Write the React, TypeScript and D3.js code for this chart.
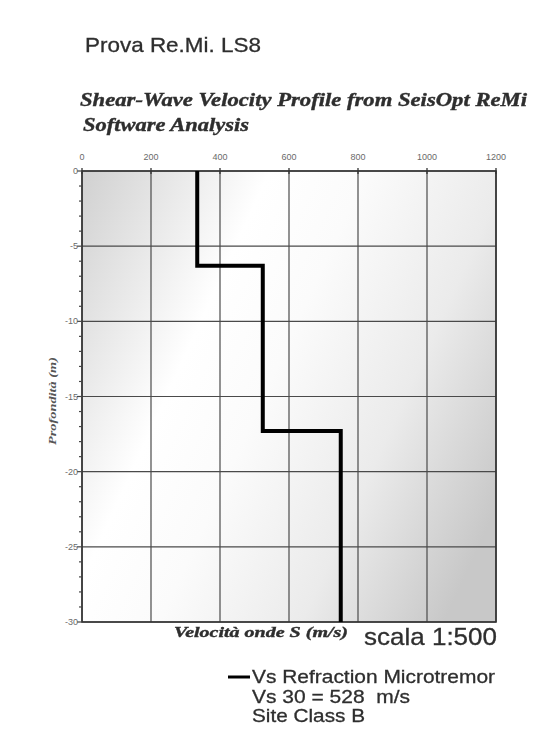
import React, { useEffect, useRef } from 'react';
import * as d3 from 'd3';

// layered Vs profile
const layerTops = [0, 6.3, 17.3];
const layerBottoms = [6.3, 17.3, 30];
const layerVs = [334, 524, 750];

const xTicks = [0, 200, 400, 600, 800, 1000, 1200];
const yTicks = [0, -5, -10, -15, -20, -25, -30];
const legendLines = ['Vs Refraction Microtremor', 'Vs 30 = 528  m/s', 'Site Class B'];

const SANS = 'Liberation Sans, Arial, sans-serif';
const SERIF = 'Liberation Serif, Times New Roman, serif';

const App: React.FC = () => {
  const svgRef = useRef<SVGSVGElement>(null);

  useEffect(() => {
    if (!svgRef.current) return;
    const W = 541, H = 743;
    const svg = d3.select(svgRef.current).attr('width', W).attr('height', H);
    svg.selectAll('*').remove();

    const left = 82, right = 496, top = 171, bottom = 622;
    const x = d3.scaleLinear().domain([0, 1200]).range([left, right]);
    const y = d3.scaleLinear().domain([0, -30]).range([top, bottom]);

    const defs = svg.append('defs');
    const grad = defs.append('linearGradient')
      .attr('id', 'bg')
      .attr('x1', '0').attr('y1', '0').attr('x2', '1.1').attr('y2', '0.55');
    [
      [0, '#d0d0d0'],
      [0.33, '#ffffff'],
      [0.5, '#fbfbfb'],
      [0.75, '#ebebeb'],
      [1, '#c8c8c8'],
    ].forEach(([o, c]) => grad.append('stop').attr('offset', o as number).attr('stop-color', c as string));
    const blur = defs.append('filter').attr('id', 'soft');
    blur.append('feGaussianBlur').attr('stdDeviation', 0.5);

    const label = (txt: string, xx: number, yy: number, size: number, len: number, serif = false) =>
      svg.append('text')
        .attr('x', xx).attr('y', yy)
        .attr('font-family', serif ? SERIF : SANS)
        .attr('font-size', size)
        .attr('font-weight', serif ? 'bold' : 'normal')
        .attr('font-style', serif ? 'italic' : 'normal')
        .attr('fill', '#2e2e2e')
        .attr('stroke', '#2e2e2e').attr('stroke-width', serif ? 0.4 : 0.3)
        .attr('filter', 'url(#soft)')
        .attr('textLength', len).attr('lengthAdjust', 'spacingAndGlyphs')
        .style('white-space', 'pre')
        .text(txt);

    // titles
    label('Prova Re.Mi. LS8', 85, 52, 21, 176);
    label('Shear-Wave Velocity Profile from SeisOpt ReMi', 80, 106, 19.5, 447, true);
    label('Software Analysis', 83, 131, 19.5, 166, true);

    // plot background
    svg.append('rect')
      .attr('x', left).attr('y', top)
      .attr('width', right - left).attr('height', bottom - top)
      .attr('fill', 'url(#bg)');

    // grid
    const g = svg.append('g').attr('stroke', '#4a4a4a').attr('stroke-width', 1.2);
    g.selectAll('line.v').data(xTicks).enter().append('line')
      .attr('x1', d => x(d)).attr('x2', d => x(d))
      .attr('y1', top).attr('y2', bottom);
    g.selectAll('line.h').data(yTicks).enter().append('line')
      .attr('x1', left).attr('x2', right)
      .attr('y1', d => y(d)).attr('y2', d => y(d));

    // border
    svg.append('rect')
      .attr('x', left).attr('y', top)
      .attr('width', right - left).attr('height', bottom - top)
      .attr('fill', 'none').attr('stroke', '#333').attr('stroke-width', 1.6);

    // top axis ticks + labels
    svg.append('g').selectAll('line').data(xTicks).enter().append('line')
      .attr('x1', d => x(d)).attr('x2', d => x(d))
      .attr('y1', top - 3).attr('y2', top + 3)
      .attr('stroke', '#333').attr('stroke-width', 1.3);
    svg.append('g').selectAll('text').data(xTicks).enter().append('text')
      .attr('x', d => x(d)).attr('y', 160)
      .attr('text-anchor', 'middle')
      .attr('font-family', SANS)
      .attr('font-size', 9).attr('fill', '#6a6a6a')
      .text(d => d);

    // left axis minor + major ticks
    const minor = d3.range(0, -31, -1);
    svg.append('g').selectAll('line').data(minor).enter().append('line')
      .attr('x1', d => (d % 5 === 0 ? left - 5 : left - 3)).attr('x2', left)
      .attr('y1', d => y(d)).attr('y2', d => y(d))
      .attr('stroke', '#444').attr('stroke-width', 1.2);
    svg.append('g').selectAll('text').data(yTicks).enter().append('text')
      .attr('x', left - 4).attr('y', d => y(d) + 3)
      .attr('text-anchor', 'end')
      .attr('font-family', SANS)
      .attr('font-size', 9).attr('fill', '#6a6a6a')
      .text(d => d);

    // y axis title
    svg.append('text')
      .attr('transform', `translate(56,401) rotate(-90)`)
      .attr('text-anchor', 'middle')
      .attr('font-family', SERIF)
      .attr('font-size', 11).attr('font-weight', 'bold').attr('font-style', 'italic')
      .attr('fill', '#555')
      .attr('textLength', 88).attr('lengthAdjust', 'spacingAndGlyphs')
      .text('Profondità (m)');

    // profile
    const pts: [number, number][] = [];
    layerVs.forEach((v, i) => {
      pts.push([v, -layerTops[i]]);
      pts.push([v, -layerBottoms[i]]);
    });
    const line = d3.line<[number, number]>().x(d => x(d[0])).y(d => y(d[1]));
    svg.append('path')
      .attr('d', line(pts))
      .attr('fill', 'none').attr('stroke', '#000')
      .attr('stroke-width', 4).attr('stroke-linejoin', 'miter');

    // x axis title + scale
    label('Velocità onde S (m/s)', 174, 637, 15, 174, true);
    label('scala 1:500', 364, 645, 24, 133);

    // legend
    svg.append('line')
      .attr('x1', 228).attr('x2', 250).attr('y1', 677).attr('y2', 677)
      .attr('stroke', '#000').attr('stroke-width', 3);
    const lens = [243, 158, 113];
    legendLines.forEach((t, i) => label(t, 252, 683 + i * 19.5, 19, lens[i]));
  }, []);

  return <svg ref={svgRef} style={{ position: 'absolute', left: 0, top: 0, background: '#fff' }} />;
};

export default App;
